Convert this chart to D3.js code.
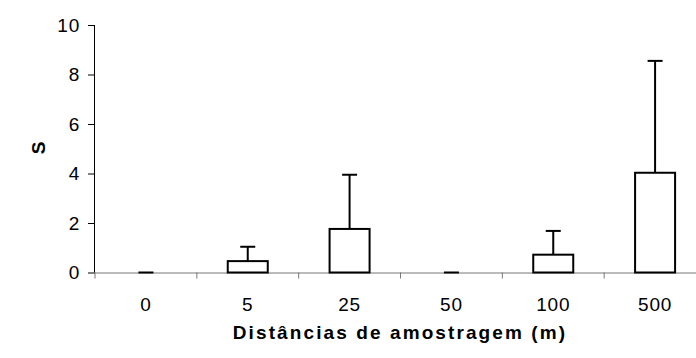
<!DOCTYPE html>
<html>
<head>
<meta charset="utf-8">
<script src="https://cdn.jsdelivr.net/npm/d3@7"></script>
<style>
  body { margin: 0; background: #fff; }
  svg { font-family: "Liberation Sans", Arial, sans-serif; }
</style>
</head>
<body>
<div id="chart"></div>
<script>
const categories = ["0", "5", "25", "50", "100", "500"];
const means = [0, 0.46, 1.76, 0, 0.72, 4.03];
const upper = [0, 1.04, 3.95, 0, 1.68, 8.55];
const yTicks = [0, 2, 4, 6, 8, 10];

const width = 696, height = 358;
const margin = { left: 95, top: 25, plotRight: 706, bottom: 272.5 };

const svg = d3.select("#chart").append("svg")
  .attr("width", width).attr("height", height);

const x = d3.scaleBand()
  .domain(categories)
  .range([margin.left, margin.plotRight]);

const y = d3.scaleLinear()
  .domain([0, 10])
  .range([margin.bottom, margin.top]);

const data = categories.map((c, i) => ({ key: c, mean: means[i], up: upper[i] }));

// y axis
const yAxis = svg.append("g")
  .attr("transform", `translate(${margin.left},0)`)
  .call(d3.axisLeft(y).tickValues(yTicks).tickSize(7).tickPadding(8).tickFormat(d3.format("d")));
yAxis.select(".domain").attr("stroke", "#000").attr("d", `M-0.5,${y(10)}V${y(0)}`);
yAxis.selectAll(".tick line").attr("stroke", "#000");
yAxis.selectAll(".tick text").attr("font-size", 19).attr("letter-spacing", 0.8).attr("fill", "#000");

// x axis
const xAxis = svg.append("g")
  .attr("transform", `translate(0,${margin.bottom})`)
  .call(d3.axisBottom(x).tickSize(0).tickPadding(25));
xAxis.select(".domain").attr("stroke", "#777").attr("d", `M${margin.left},0.5H${width}`);
xAxis.selectAll(".tick text").attr("font-size", 19).attr("letter-spacing", 0.8).attr("fill", "#000");

// x boundary ticks
svg.append("g").selectAll("line")
  .data(categories)
  .join("line")
  .attr("x1", d => x(d))
  .attr("x2", d => x(d))
  .attr("y1", margin.bottom)
  .attr("y2", margin.bottom + 6)
  .attr("stroke", "#777");

const barW = 40, capW = 15;

// error bars
const err = svg.append("g").attr("stroke", "#000").attr("stroke-width", 2);
err.selectAll(".stem").data(data).join("line")
  .attr("x1", d => x(d.key) + x.bandwidth() / 2)
  .attr("x2", d => x(d.key) + x.bandwidth() / 2)
  .attr("y1", d => y(d.mean))
  .attr("y2", d => y(d.up));
err.selectAll(".cap").data(data).join("line")
  .attr("x1", d => x(d.key) + x.bandwidth() / 2 - capW / 2)
  .attr("x2", d => x(d.key) + x.bandwidth() / 2 + capW / 2)
  .attr("y1", d => y(d.up))
  .attr("y2", d => y(d.up));

// bars
svg.append("g").selectAll("rect")
  .data(data.filter(d => d.mean > 0))
  .join("rect")
  .attr("x", d => x(d.key) + x.bandwidth() / 2 - barW / 2)
  .attr("y", d => y(d.mean))
  .attr("width", barW)
  .attr("height", d => y(0) - y(d.mean))
  .attr("fill", "#fff")
  .attr("stroke", "#000")
  .attr("stroke-width", 2);

// axis titles
svg.append("text")
  .attr("transform", `translate(45,148) rotate(-90)`)
  .attr("text-anchor", "middle")
  .attr("font-size", 19)
  .attr("font-weight", "bold")
  .text("S");

svg.append("text")
  .attr("x", 400)
  .attr("y", 339)
  .attr("text-anchor", "middle")
  .attr("font-size", 19)
  .attr("font-weight", "bold")
  .attr("letter-spacing", 2.1)
  .text("Distâncias de amostragem (m)");
</script>
</body>
</html>
